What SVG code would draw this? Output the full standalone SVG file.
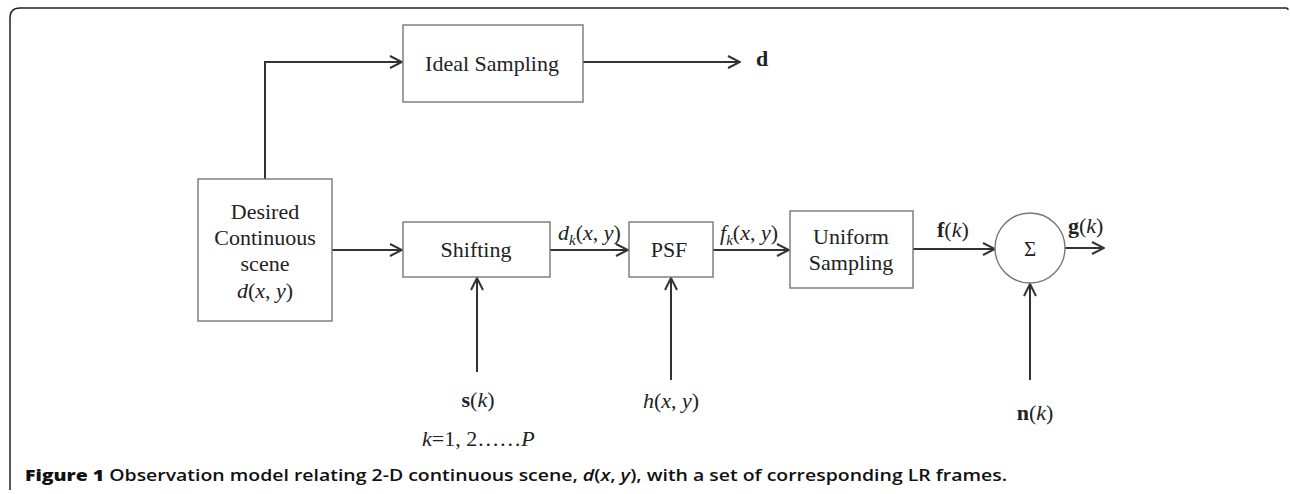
<svg xmlns="http://www.w3.org/2000/svg" width="1290" height="494" viewBox="0 0 1290 494">
<style>
.box{fill:#fff;stroke:#777;stroke-width:1.4}
.ln{fill:none;stroke:#333;stroke-width:2}
.t{font-family:"Liberation Serif","Times New Roman",serif;font-size:22px;fill:#222}
.c{text-anchor:middle}
.i{font-style:italic}
.b{font-weight:bold}
.cap{font-family:"Open Sans","Liberation Sans",sans-serif;font-size:16px;font-weight:600;fill:#111}
</style>
<defs>
<marker id="ah" viewBox="0 0 14 14" refX="13" refY="7" markerWidth="14" markerHeight="14" markerUnits="userSpaceOnUse" orient="auto">
<path d="M1 1 L13 7 L1 13" fill="none" stroke="#333" stroke-width="2"/>
</marker>
</defs>
<path d="M10 490 L10 18 Q10 8 20 8 L1286 8 Q1288 8 1288 10" fill="none" stroke="#222" stroke-width="1.5"/>
<g id="connectors">
<path class="ln" d="M265 179 V62 H402" marker-end="url(#ah)"/>
<path class="ln" d="M583 62 H740" marker-end="url(#ah)"/>
<path class="ln" d="M332 250 H402" marker-end="url(#ah)"/>
<path class="ln" d="M550 250 H628" marker-end="url(#ah)"/>
<path class="ln" d="M713 250 H789" marker-end="url(#ah)"/>
<path class="ln" d="M913 249 H995" marker-end="url(#ah)"/>
<path class="ln" d="M1065 248 H1104" marker-end="url(#ah)"/>
<path class="ln" d="M477 372 V278" marker-end="url(#ah)"/>
<path class="ln" d="M671 380 V278" marker-end="url(#ah)"/>
<path class="ln" d="M1030 380 V284" marker-end="url(#ah)"/>
</g>
<g id="ideal">
<rect class="box" x="403" y="25" width="180" height="77"/>
<text class="t c" x="492" y="71">Ideal Sampling</text>
</g>
<g id="desired">
<rect class="box" x="198" y="179" width="134" height="142"/>
<text class="t c" x="265" y="219">Desired</text>
<text class="t c" x="265" y="245">Continuous</text>
<text class="t c" x="265" y="271">scene</text>
<text class="t c" x="265" y="298"><tspan class="i">d</tspan>(<tspan class="i">x</tspan>, <tspan class="i">y</tspan>)</text>
</g>
<g id="shifting">
<rect class="box" x="403" y="222" width="147" height="55"/>
<text class="t c" x="476" y="257">Shifting</text>
</g>
<g id="psf">
<rect class="box" x="629" y="222" width="84" height="55"/>
<text class="t c" x="669" y="257">PSF</text>
</g>
<g id="uniform">
<rect class="box" x="790" y="211" width="123" height="77"/>
<text class="t c" x="851" y="244">Uniform</text>
<text class="t c" x="851" y="270">Sampling</text>
</g>
<g id="sum">
<circle cx="1030" cy="248" r="35" fill="#fff" stroke="#777" stroke-width="1.4"/>
<text class="t c" x="1030" y="256" style="font-size:21px">Σ</text>
</g>
<g id="labels">
<text class="t b" x="756" y="66">d</text>
<text class="t" x="558" y="240"><tspan class="i">d</tspan><tspan class="i" dy="5" style="font-size:15px">k</tspan><tspan dy="-5">(</tspan><tspan class="i">x</tspan>, <tspan class="i">y</tspan>)</text>
<text class="t" x="720" y="240"><tspan class="i">f</tspan><tspan class="i" dy="5" style="font-size:15px">k</tspan><tspan dy="-5">(</tspan><tspan class="i">x</tspan>, <tspan class="i">y</tspan>)</text>
<text class="t" x="937" y="237"><tspan class="b">f</tspan>(<tspan class="i">k</tspan>)</text>
<text class="t" x="1068" y="233"><tspan class="b">g</tspan>(<tspan class="i">k</tspan>)</text>
<text class="t c" x="478" y="407"><tspan class="b">s</tspan>(<tspan class="i">k</tspan>)</text>
<text class="t c" x="671" y="408"><tspan class="i">h</tspan>(<tspan class="i">x</tspan>, <tspan class="i">y</tspan>)</text>
<text class="t c" x="1035" y="420"><tspan class="b">n</tspan>(<tspan class="i">k</tspan>)</text>
<text class="t" x="422" y="446"><tspan class="i">k</tspan>=1, 2……<tspan class="i">P</tspan></text>
</g>
<text class="cap" x="25" y="481" textLength="982" lengthAdjust="spacingAndGlyphs"><tspan style="font-weight:800">Figure 1</tspan> Observation model relating 2-D continuous scene, <tspan font-style="italic">d</tspan>(<tspan font-style="italic">x</tspan>, <tspan font-style="italic">y</tspan>), with a set of corresponding LR frames.</text>
</svg>
